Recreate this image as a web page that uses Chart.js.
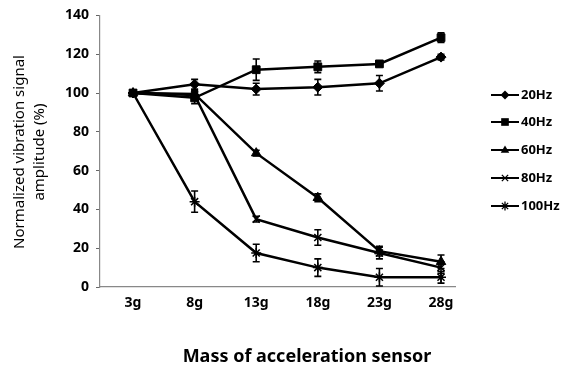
<!DOCTYPE html>
<html><head><meta charset="utf-8">
<script src="https://cdn.jsdelivr.net/npm/chart.js@4/dist/chart.umd.min.js"></script>
<style>html,body{margin:0;padding:0;background:#fff}#wrap{width:566px;height:371px;position:relative}</style>
</head><body><div id="wrap"><canvas id="c" width="566" height="371"></canvas></div>
<script>
const categories = ["3g","8g","13g","18g","23g","28g"];
const seriesNames = ["20Hz","40Hz","60Hz","80Hz","100Hz"];
const hz20 = [100, 104.5, 102, 103, 105, 118.5];
const hz40 = [100, 97.5, 112, 113.5, 115, 128.5];
const hz60 = [100, 99.5, 69, 46, 18.5, 13];
const hz80 = [100, 99, 35, 25.5, 17.5, 10];
const hz100 = [100, 44, 17.5, 10, 5, 5];
const err20 = [0, 2.5, 3, 4, 4, 1.5];
const err40 = [0, 3, 5.5, 3, 1.5, 2.5];
const err60 = [0, 2, 1.5, 2, 2.5, 3.5];
const err80 = [0, 2, 1.5, 4, 3, 3];
const err100 = [0, 5.5, 4.5, 4.5, 4.5, 3];
const yTicks = [0,20,40,60,80,100,120,140];
const xTitle = "Mass of acceleration sensor";
const yTitle = ["Normalized vibration signal","amplitude (%)"];

const values = [hz20, hz40, hz60, hz80, hz100];
const errors = [err20, err40, err60, err80, err100];
const styles = ['rectRot','rect','triangle','crossRot','star'];
const radii = [5, 5.5, 5.5, 5, 5];

const datasets = values.map((vals, i) => ({
  label: seriesNames[i],
  data: vals.map((v, j) => ({x: j, y: v})),
  borderColor: '#000',
  backgroundColor: '#000',
  borderWidth: 2.5,
  pointStyle: styles[i],
  pointRadius: radii[i],
  pointBorderWidth: (styles[i]==='crossRot'||styles[i]==='star') ? 1.5 : 1,
  pointBackgroundColor: '#000',
  pointBorderColor: '#000',
  tension: 0,
  errs: errors[i]
}));

const errorBars = {
  id: 'errorBars',
  afterDatasetsDraw(chart) {
    const ctx = chart.ctx, xs = chart.scales.x, ys = chart.scales.y;
    ctx.save();
    ctx.strokeStyle = '#000';
    ctx.lineWidth = 1.6;
    chart.data.datasets.forEach(ds => {
      ds.data.forEach((p, j) => {
        const e = ds.errs[j];
        if (!e) return;
        const x = xs.getPixelForValue(p.x);
        const y1 = ys.getPixelForValue(p.y + e);
        const y2 = ys.getPixelForValue(p.y - e);
        ctx.beginPath();
        ctx.moveTo(x, y1); ctx.lineTo(x, y2);
        ctx.moveTo(x-3.5, y1); ctx.lineTo(x+3.5, y1);
        ctx.moveTo(x-3.5, y2); ctx.lineTo(x+3.5, y2);
        ctx.stroke();
      });
    });
    ctx.restore();
  }
};

function drawMarker(ctx, style, x, y, r) {
  ctx.beginPath();
  if (style === 'rectRot') {
    ctx.moveTo(x, y-r); ctx.lineTo(x+r, y); ctx.lineTo(x, y+r); ctx.lineTo(x-r, y); ctx.closePath(); ctx.fill();
  } else if (style === 'rect') {
    const s = r*0.85; ctx.rect(x-s, y-s, 2*s, 2*s); ctx.fill();
  } else if (style === 'triangle') {
    ctx.moveTo(x, y-r); ctx.lineTo(x+r*0.95, y+r*0.6); ctx.lineTo(x-r*0.95, y+r*0.6); ctx.closePath(); ctx.fill();
  } else if (style === 'crossRot') {
    const s = r*0.7; ctx.moveTo(x-s,y-s); ctx.lineTo(x+s,y+s); ctx.moveTo(x+s,y-s); ctx.lineTo(x-s,y+s); ctx.stroke();
  } else if (style === 'star') {
    const s = r*0.7; ctx.moveTo(x-s,y-s); ctx.lineTo(x+s,y+s); ctx.moveTo(x+s,y-s); ctx.lineTo(x-s,y+s);
    ctx.moveTo(x,y-r); ctx.lineTo(x,y+r); ctx.stroke();
  }
}

const extras = {
  id: 'extras',
  afterDraw(chart) {
    const ctx = chart.ctx;
    ctx.save();
    ctx.fillStyle = '#000'; ctx.strokeStyle = '#000';
    // legend
    const ly = [95, 122, 150, 178, 206];
    ctx.font = 'bold 13px "Noto Sans", "Open Sans", sans-serif';
    ctx.textBaseline = 'middle'; ctx.textAlign = 'left';
    seriesNames.forEach((n, i) => {
      ctx.lineWidth = 2;
      ctx.beginPath(); ctx.moveTo(491, ly[i]); ctx.lineTo(519, ly[i]); ctx.stroke();
      ctx.lineWidth = 1.3;
      drawMarker(ctx, styles[i], 505, ly[i], 4.5);
      ctx.fillText(n, 521, ly[i]);
    });
    // x title
    ctx.font = 'bold 18px "Noto Sans", "Open Sans", sans-serif';
    ctx.textAlign = 'center';
    ctx.fillText(xTitle, 307, 357);
    // y title
    ctx.font = '15px "Noto Sans", "Open Sans", sans-serif';
    ctx.save();
    ctx.translate(20, 152); ctx.rotate(-Math.PI/2);
    ctx.fillText(yTitle[0], 0, 0);
    ctx.restore();
    ctx.save();
    ctx.translate(40, 152); ctx.rotate(-Math.PI/2);
    ctx.fillText(yTitle[1], 0, 0);
    ctx.restore();
    ctx.restore();
  }
};

new Chart(document.getElementById('c'), {
  type: 'line',
  data: { datasets },
  options: {
    responsive: false,
    animation: false,
    layout: { padding: { top: 13, right: 111, left: 0, bottom: 0 } },
    plugins: { legend: { display: false }, tooltip: { enabled: false } },
    scales: {
      x: {
        type: 'linear',
        min: -0.536, max: 5.227,
        afterBuildTicks: s => { s.ticks = categories.map((c, i) => ({ value: i })); },
        afterFit: s => { s.height = 84; },
        ticks: {
          callback: v => categories[v],
          color: '#000',
          font: { family: '"Noto Sans", "Open Sans", sans-serif', size: 14, weight: 'bold' },
          padding: 8, maxRotation: 0, autoSkip: false
        },
        grid: { display: true, drawOnChartArea: false, drawTicks: false },
        border: { color: '#888', width: 1.2 }
      },
      y: {
        min: 0, max: 140,
        afterBuildTicks: s => { s.ticks = yTicks.map(v => ({ value: v })); },
        afterFit: s => { s.width = 100; },
        ticks: {
          color: '#000',
          font: { family: '"Noto Sans", "Open Sans", sans-serif', size: 14, weight: 'bold' },
          padding: 7
        },
        grid: { drawOnChartArea: false, drawTicks: true, tickLength: 4, color: '#666' },
        border: { color: '#888', width: 1.2 }
      }
    }
  },
  plugins: [errorBars, extras]
});
</script></body></html>
